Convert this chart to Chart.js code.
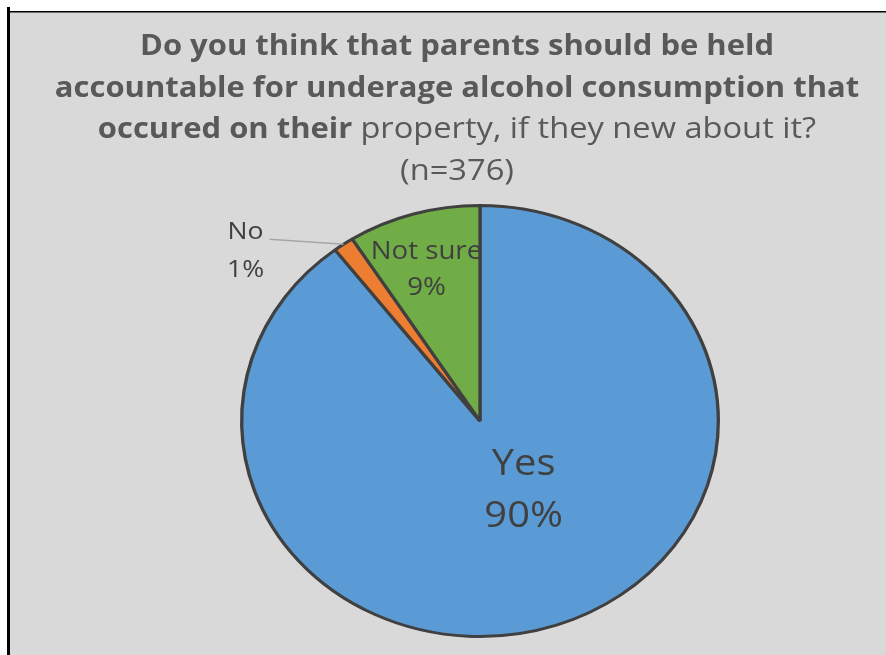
<!DOCTYPE html>
<html>
<head>
<meta charset="utf-8">
<script src="https://cdn.jsdelivr.net/npm/chart.js@4.4.0/dist/chart.umd.min.js"></script>
<style>
	body { margin: 0; background: #fff; }
	canvas { display: block; }
</style>
</head>
<body>
<canvas id="pie-chartcanvas" width="886" height="655"></canvas>
<script>
// chart data
var categories = ["Yes", "No", "Not sure"];
var shares = [89.6, 1.4, 9.0];
var colours = ["#5b9bd5", "#ed7d31", "#70ad47"];

var titleLines = [
	[{ text: "Do you think that parents should be held", bold: true }],
	[{ text: "accountable for underage alcohol consumption that", bold: true }],
	[{ text: "occured on their ", bold: true }, { text: "property, if they new about it?", bold: false }],
	[{ text: "(n=376)", bold: false }]
];

var FONT = "'Open Sans', 'DejaVu Sans', sans-serif";
var STRETCH = 240 / 217; // the whole picture is a bit wider than tall

// text drawn with the same horizontal stretch
function wideText(ctx, text, x, y, align) {
	ctx.save();
	ctx.translate(x, y);
	ctx.scale(STRETCH, 1);
	ctx.textAlign = align || "center";
	ctx.fillText(text, 0, 0);
	ctx.restore();
}

function titleFont(bold) {
	return bold ? "bold 28px " + FONT : "29.5px " + FONT;
}

// background, frame and title
var framePlugin = {
	id: "frame",
	beforeDraw: function(chart) {
		var ctx = chart.ctx;
		ctx.save();
		ctx.fillStyle = "#ffffff";
		ctx.fillRect(0, 0, chart.width, chart.height);
		ctx.fillStyle = "#d9d9d9";
		ctx.fillRect(10, 12, chart.width - 10, chart.height - 12);
		ctx.fillStyle = "#000000";
		ctx.fillRect(7, 7, 3, chart.height - 7);
		ctx.fillRect(10, 11, chart.width - 10, 1.5);

		// title
		ctx.fillStyle = "#595959";
		ctx.textBaseline = "alphabetic";
		var cx = 457;
		var y = 55;
		for (var i = 0; i < titleLines.length; i++) {
			var parts = titleLines[i];
			var total = 0;
			for (var j = 0; j < parts.length; j++) {
				ctx.font = titleFont(parts[j].bold);
				parts[j].w = ctx.measureText(parts[j].text).width * STRETCH;
				total += parts[j].w;
			}
			var x = cx - total / 2;
			for (var j = 0; j < parts.length; j++) {
				ctx.font = titleFont(parts[j].bold);
				wideText(ctx, parts[j].text, x, y, "left");
				x += parts[j].w;
			}
			y += 41.5;
		}
		ctx.restore();
	}
};

// stretch the pie horizontally
var ellipsePlugin = {
	id: "ellipse",
	beforeDatasetsDraw: function(chart) {
		var arc = chart.getDatasetMeta(0).data[0];
		var ctx = chart.ctx;
		ctx.save();
		ctx.translate(arc.x, arc.y);
		ctx.scale(STRETCH, 1);
		ctx.translate(-arc.x, -arc.y);
	},
	afterDatasetsDraw: function(chart) {
		chart.ctx.restore();
	}
};

// data labels
var labelPlugin = {
	id: "sliceLabels",
	afterDraw: function(chart) {
		var ctx = chart.ctx;
		var meta = chart.getDatasetMeta(0);
		var sum = shares.reduce(function(a, b) { return a + b; }, 0);
		ctx.save();
		ctx.fillStyle = "#404040";
		ctx.textBaseline = "middle";
		meta.data.forEach(function(arc, i) {
			var mid = (arc.startAngle + arc.endAngle) / 2;
			var r = arc.outerRadius;
			var pct = Math.round(shares[i] / sum * 100) + "%";
			var ex = arc.x + Math.cos(mid) * r * STRETCH;
			var ey = arc.y + Math.sin(mid) * r;
			if (i === 0) {
				var lx = arc.x + Math.cos(mid) * r * 0.4 * STRETCH + 13;
				var ly = arc.y + Math.sin(mid) * r * 0.4 - 12;
				ctx.font = "36px " + FONT;
				wideText(ctx, categories[i], lx, ly - 26);
				wideText(ctx, pct, lx, ly + 26);
			} else if (i === 2) {
				var lx = arc.x + Math.cos(mid) * r * 0.73 * STRETCH - 5;
				var ly = arc.y + Math.sin(mid) * r * 0.73;
				ctx.font = "25px " + FONT;
				wideText(ctx, categories[i], lx, ly - 18);
				wideText(ctx, pct, lx, ly + 18);
			} else {
				// outside label with leader line
				ctx.strokeStyle = "#a6a6a6";
				ctx.lineWidth = 1.5;
				ctx.beginPath();
				ctx.moveTo(ex - 74, ey - 5);
				ctx.lineTo(ex, ey);
				ctx.stroke();
				ctx.font = "24px " + FONT;
				wideText(ctx, categories[i], ex - 98, ey - 12);
				wideText(ctx, pct, ex - 98, ey + 26);
			}
		});
		ctx.restore();
	}
};

var ctx = document.getElementById("pie-chartcanvas");

var data = {
	labels: categories,
	datasets: [
		{
			data: shares,
			backgroundColor: colours,
			borderColor: "#404040",
			borderWidth: 3
		}
	]
};

var options = {
	responsive: false,
	animation: false,
	layout: {
		padding: { top: 204, bottom: 17, left: 100, right: 26 }
	},
	plugins: {
		legend: { display: false },
		tooltip: { enabled: false },
		title: { display: false }
	}
};

var chart = new Chart(ctx, {
	type: "pie",
	data: data,
	options: options,
	plugins: [framePlugin, ellipsePlugin, labelPlugin]
});
</script>
</body>
</html>
